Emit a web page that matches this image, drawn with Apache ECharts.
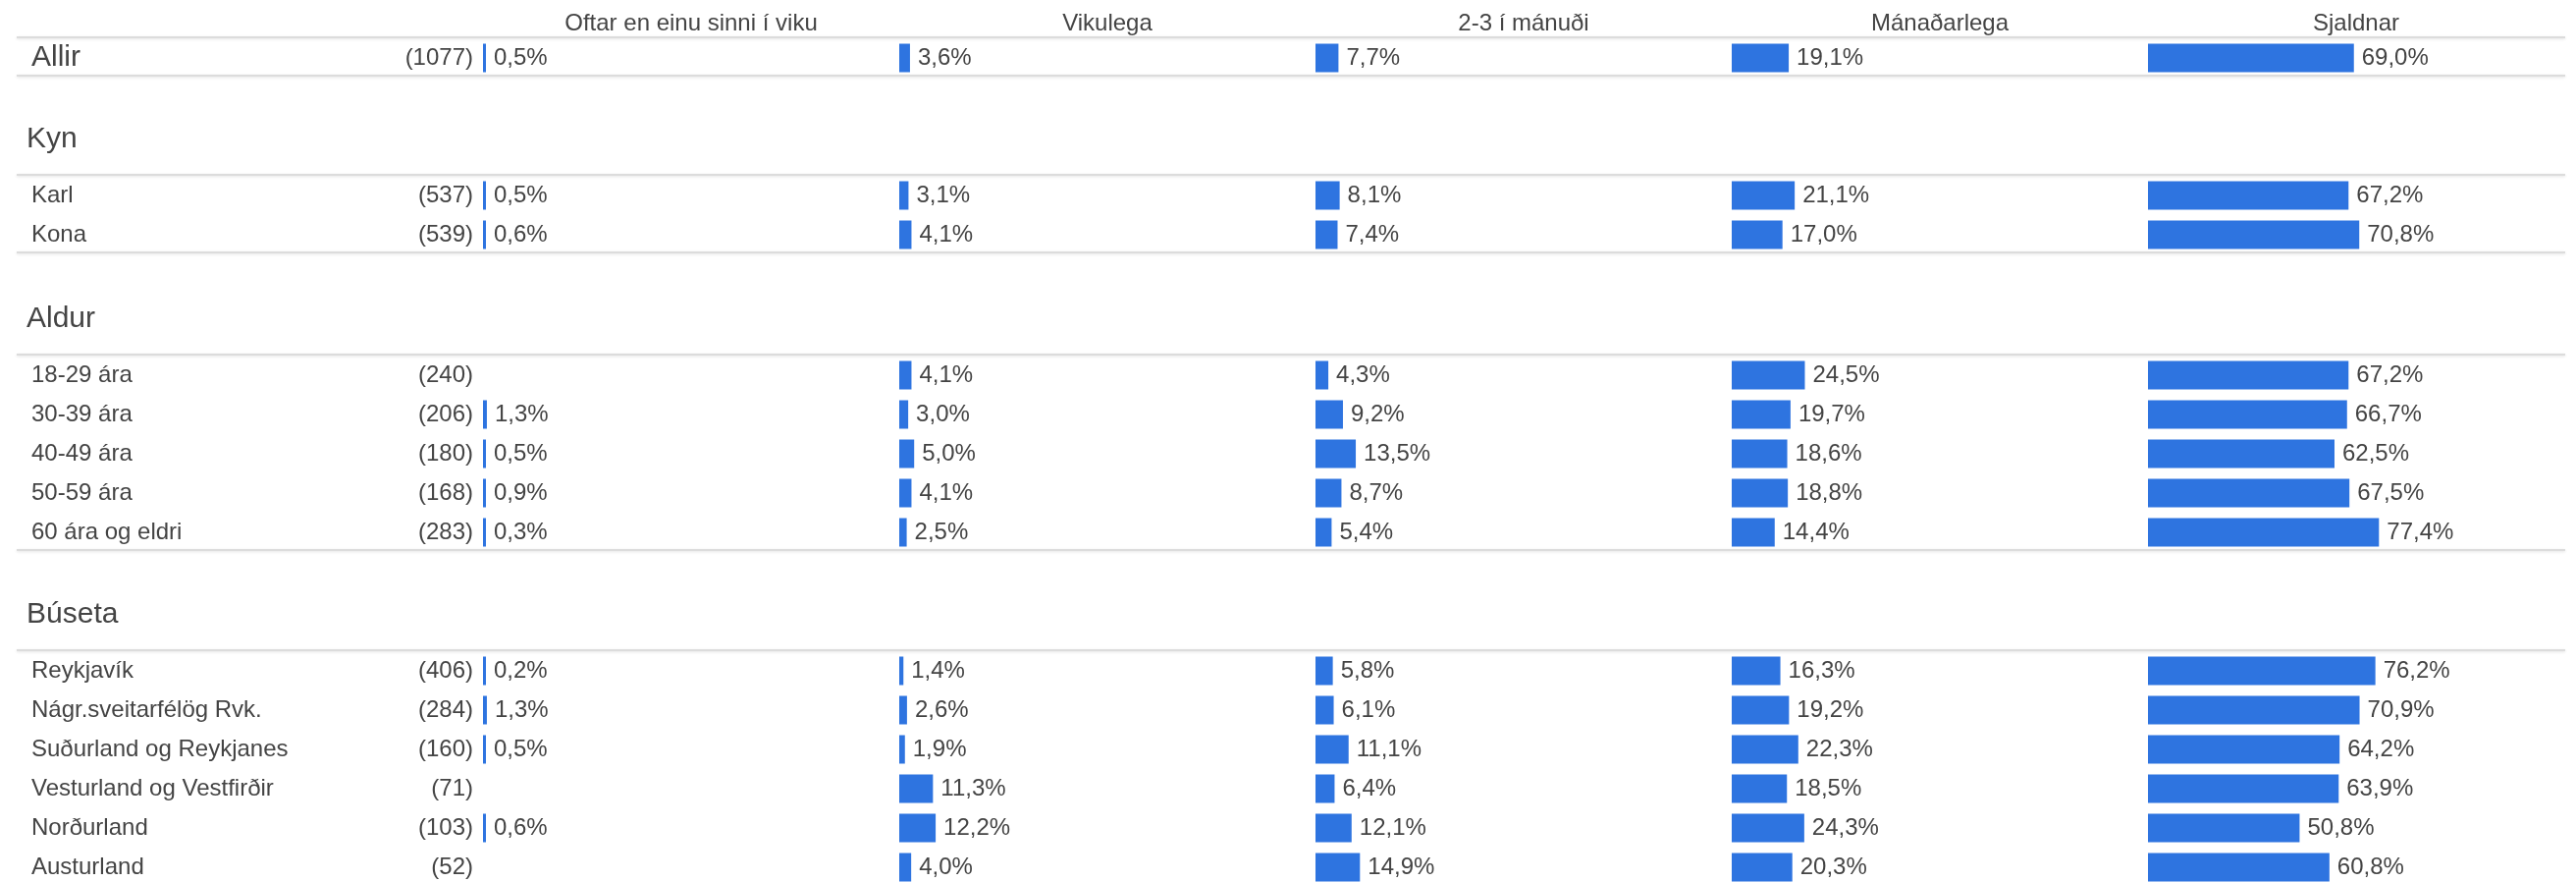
<!DOCTYPE html>
<html>
<head>
<meta charset="utf-8">
<script src="https://cdn.jsdelivr.net/npm/echarts@6/dist/echarts.min.js"></script>
<style>
html, body { margin: 0; padding: 0; background: #fff; }
#chart { width: 2624px; height: 898px; }
</style>
</head>
<body>
<div id="chart"></div>
<script>
// columns (answer options)
var columns = ['Oftar en einu sinni í viku', 'Vikulega', '2-3 í mánuði', 'Mánaðarlega', 'Sjaldnar'];

// rows
var rowNames = ['Allir', 'Karl', 'Kona',
  '18-29 ára', '30-39 ára', '40-49 ára', '50-59 ára', '60 ára og eldri',
  'Reykjavík', 'Nágr.sveitarfélög Rvk.', 'Suðurland og Reykjanes', 'Vesturland og Vestfirðir', 'Norðurland', 'Austurland'];
var rowCounts = [1077, 537, 539, 240, 206, 180, 168, 283, 406, 284, 160, 71, 103, 52];
var sectionTitles = ['', 'Kyn', 'Aldur', 'Búseta'];
var sectionSizes = [1, 2, 5, 6];

// values (%), null = no answer in that cell
var oftar       = [0.5, 0.5, 0.6, null, 1.3, 0.5, 0.9, 0.3, 0.2, 1.3, 0.5, null, 0.6, null];
var vikulega    = [3.6, 3.1, 4.1, 4.1, 3.0, 5.0, 4.1, 2.5, 1.4, 2.6, 1.9, 11.3, 12.2, 4.0];
var tvoTilThrju = [7.7, 8.1, 7.4, 4.3, 9.2, 13.5, 8.7, 5.4, 5.8, 6.1, 11.1, 6.4, 12.1, 14.9];
var manadarlega = [19.1, 21.1, 17.0, 24.5, 19.7, 18.6, 18.8, 14.4, 16.3, 19.2, 22.3, 18.5, 24.3, 20.3];
var sjaldnar    = [69.0, 67.2, 70.8, 67.2, 66.7, 62.5, 67.5, 77.4, 76.2, 70.9, 64.2, 63.9, 50.8, 60.8];
var columnValues = [oftar, vikulega, tvoTilThrju, manadarlega, sjaldnar];

var FONT = '"Liberation Sans", Arial, sans-serif';
var TEXT = '#444444';
var BLUE = '#2e74e0';
var colLeft = [492, 916, 1340, 1764, 2188];
var colWidth = 424;
var scaleWidth = 304;   // width of 100 %
var rowH = 40;
var sectionTop = [39, 179, 362, 663];
var labelLeft = 32;

function pct(v) {
	return v.toFixed(1).replace('.', ',') + '%';
}

var grid = [], xAxis = [], yAxis = [], series = [], graphic = [];

var start = 0;
sectionSizes.forEach(function (n, s) {
	var names = rowNames.slice(start, start + n).map(function (name) {
		// the overall row gets a bigger label
		return s === 0 ? { value: name, textStyle: { fontSize: 30, align: 'left', color: TEXT, fontFamily: FONT } } : name;
	});
	var counts = rowCounts.slice(start, start + n).map(function (c) { return '(' + c + ')'; });

	for (var c = 0; c < columns.length; c++) {
		var g = grid.length;
		grid.push({
			left: colLeft[c], top: sectionTop[s], width: scaleWidth, height: n * rowH,
			containLabel: false, outerBoundsMode: 'none'
		});
		xAxis.push({ type: 'value', gridIndex: g, min: 0, max: 100, show: false });

		var yi = yAxis.length;
		yAxis.push({
			type: 'category', gridIndex: g, position: 'left', inverse: true, data: names,
			show: c === 0,
			axisLine: { show: false }, axisTick: { show: false }, splitLine: { show: false },
			axisLabel: {
				align: 'left', margin: colLeft[0] - labelLeft,
				color: TEXT, fontFamily: FONT, fontSize: 24
			}
		});
		if (c === 0) {
			yAxis.push({
				type: 'category', gridIndex: g, position: 'left', inverse: true, data: counts,
				axisLine: { show: false }, axisTick: { show: false }, splitLine: { show: false },
				axisLabel: { align: 'right', margin: 10, color: TEXT, fontFamily: FONT, fontSize: 24 }
			});
		}

		var vals = columnValues[c].slice(start, start + n).map(function (v) {
			return v === null ? '-' : v;
		});
		series.push({
			type: 'bar',
			name: columns[c],
			xAxisIndex: g,
			yAxisIndex: yi,
			data: vals,
			barWidth: 29,
			barMinHeight: 3,
			itemStyle: { color: BLUE },
			label: {
				show: true, position: 'right', distance: 8,
				color: TEXT, fontFamily: FONT, fontSize: 24,
				formatter: function (p) { return pct(p.value); }
			},
			silent: true
		});
	}

	// separator lines of the section
	[sectionTop[s] - 1, sectionTop[s] + n * rowH - 2].forEach(function (y) {
		graphic.push({
			type: 'line', silent: true,
			shape: { x1: 17, y1: y, x2: 2613, y2: y },
			style: { stroke: '#dcdcdc', lineWidth: 2, shadowBlur: 3, shadowColor: 'rgba(0,0,0,0.12)', shadowOffsetY: 1 }
		});
	});

	if (sectionTitles[s]) {
		graphic.push({
			type: 'text', silent: true, x: 27, y: sectionTop[s] - 37,
			style: { text: sectionTitles[s], fill: TEXT, font: '30px ' + FONT, verticalAlign: 'middle', align: 'left' }
		});
	}
	start += n;
});

// column headers
columns.forEach(function (name, c) {
	graphic.push({
		type: 'text', silent: true, x: colLeft[c] + colWidth / 2, y: 24,
		style: { text: name, fill: TEXT, font: '24px ' + FONT, verticalAlign: 'middle', align: 'center' }
	});
});

var chart = echarts.init(document.getElementById('chart'));
chart.setOption({
	animation: false,
	backgroundColor: '#ffffff',
	grid: grid,
	xAxis: xAxis,
	yAxis: yAxis,
	series: series,
	graphic: graphic
});
window.addEventListener('resize', function () {
	chart.resize();
});
</script>
</body>
</html>
